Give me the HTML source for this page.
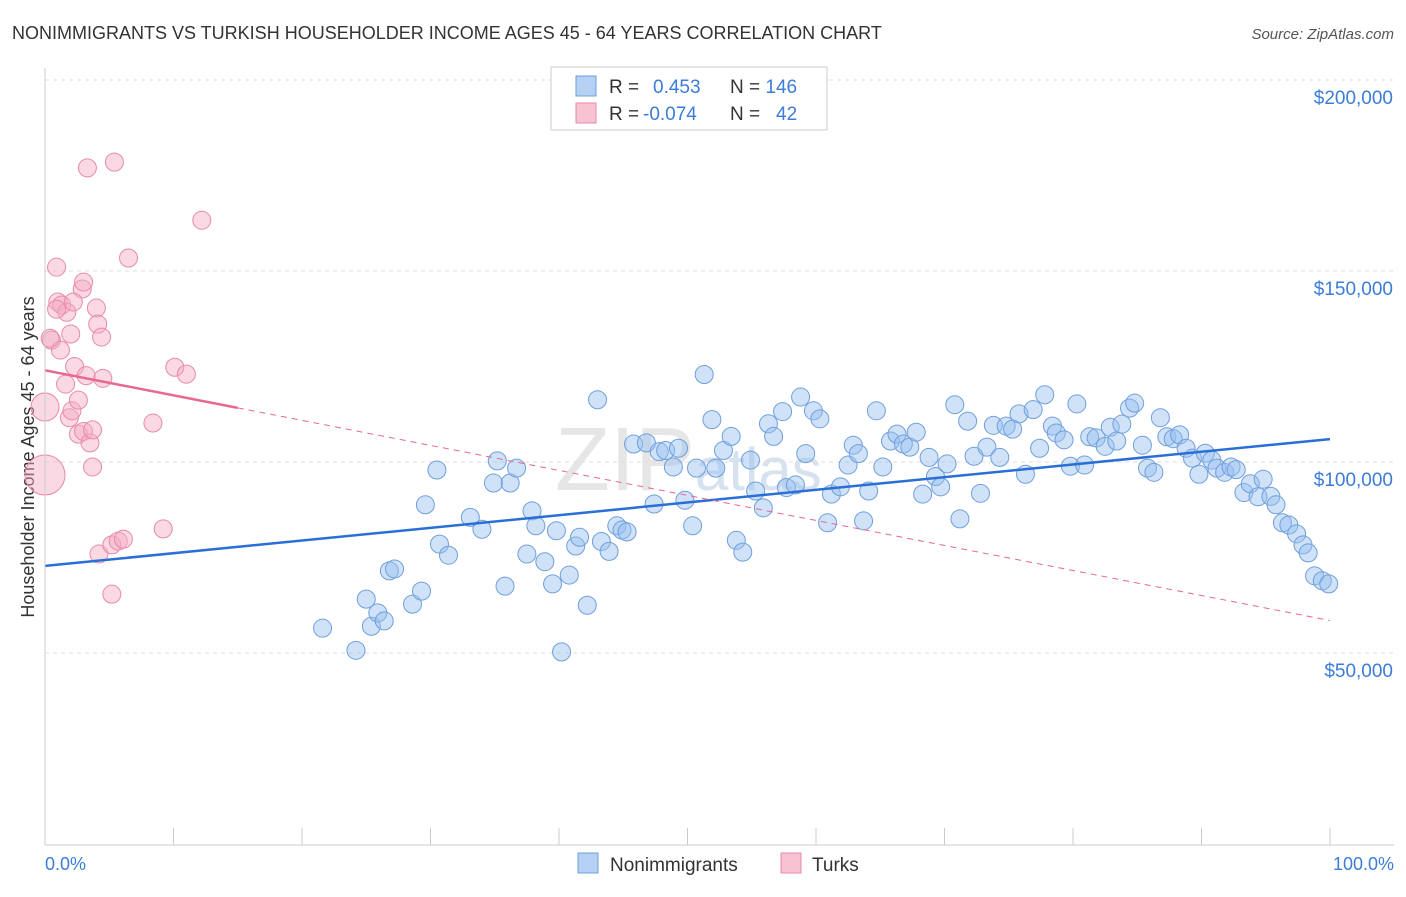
<!DOCTYPE html>
<html><head><meta charset="utf-8"><style>
body{margin:0;background:#fff;font-family:"Liberation Sans",sans-serif;}
svg text{font-family:"Liberation Sans",sans-serif;}
</style></head><body>
<svg id="chart" width="1406" height="892" xmlns="http://www.w3.org/2000/svg">
<text x="12" y="39" font-size="18" fill="#333">NONIMMIGRANTS VS TURKISH HOUSEHOLDER INCOME AGES 45 - 64 YEARS CORRELATION CHART</text>
<text x="1394" y="39" font-size="15" fill="#555" text-anchor="end" font-style="italic">Source: ZipAtlas.com</text>
<text x="34" y="457" font-size="18" fill="#333" text-anchor="middle" transform="rotate(-90 34 457)">Householder Income Ages 45 - 64 years</text>
<text x="555" y="490" font-size="90" fill="#e6e6e6" font-family="Liberation Serif">ZIP<tspan font-size="60" fill="#d6e2f0" font-family="Liberation Sans">atlas</tspan></text>
<g id="grid"></g><g id="pts"></g><g id="lines"></g>
<line x1="45" y1="68" x2="45" y2="845" stroke="#ccc"/>
<line x1="45" y1="845" x2="1394" y2="845" stroke="#ccc"/>
<text x="45" y="870" font-size="18" fill="#3b7dd8">0.0%</text>
<text x="1394" y="870" font-size="18" fill="#3b7dd8" text-anchor="end">100.0%</text>
<g>
<rect x="551" y="67" width="276" height="63" fill="#fff" stroke="#ccc"/>
<rect x="576" y="76" width="20" height="20" fill="#b5d0f3" stroke="#6f9fdc"/>
<rect x="576" y="103" width="20" height="20" fill="#f7c3d3" stroke="#e88aa8"/>
<text x="609" y="93" font-size="19" fill="#333">R = <tspan fill="#3b7dd8" x="653">0.453</tspan><tspan x="730">N = </tspan><tspan fill="#3b7dd8">146</tspan></text>
<text x="609" y="120" font-size="19" fill="#333">R = <tspan fill="#3b7dd8" x="643">-0.074</tspan><tspan x="730">N = </tspan><tspan fill="#3b7dd8" x="776">42</tspan></text>
</g>
<g>
<rect x="578" y="853" width="20" height="20" fill="#b5d0f3" stroke="#6f9fdc"/>
<text x="610" y="871" font-size="19" fill="#333">Nonimmigrants</text>
<rect x="781" y="853" width="20" height="20" fill="#f7c3d3" stroke="#e88aa8"/>
<text x="812" y="871" font-size="19" fill="#333">Turks</text>
</g>
</svg>
<script>
const yTicks=[50000,100000,150000,200000];
const yTickLabels=["$50,000","$100,000","$150,000","$200,000"];
const blueX=[21.6,24.2,25.0,25.4,25.9,26.4,26.8,27.2,28.6,29.3,30.5,29.6,30.7,31.4,33.1,34.0,34.9,35.2,35.8,36.2,36.7,37.5,37.9,38.2,38.9,39.5,39.8,40.2,40.8,41.3,41.6,42.2,43.0,43.3,43.9,44.5,44.9,45.3,45.8,46.8,47.4,47.8,48.3,48.9,49.3,49.8,50.4,50.7,51.3,51.9,52.2,52.8,53.4,53.8,54.3,54.9,55.3,55.9,56.3,56.7,57.4,57.7,58.4,58.8,59.2,59.8,60.3,60.9,61.2,61.9,62.5,62.9,63.3,63.7,64.1,64.7,65.2,65.8,66.3,66.8,67.3,67.8,68.3,68.8,69.3,69.7,70.2,70.8,71.2,71.8,72.3,72.8,73.3,73.8,74.3,74.8,75.3,75.8,76.3,76.9,77.4,77.8,78.4,78.7,79.3,79.8,80.3,80.9,81.3,81.8,82.5,82.9,83.4,83.8,84.4,84.8,85.4,85.8,86.3,86.8,87.3,87.8,88.3,88.8,89.3,89.8,90.3,90.8,91.2,91.8,92.3,92.7,93.3,93.8,94.4,94.8,95.4,95.8,96.3,96.8,97.4,97.9,98.3,98.8,99.4,99.9];
const blueY=[56.5,50.7,64.1,57.0,60.5,58.4,71.5,72.0,62.8,66.2,97.9,88.8,78.5,75.6,85.5,82.4,94.5,100.3,67.5,94.5,98.4,75.9,87.2,83.3,73.9,68.1,82.0,50.3,70.4,78.0,80.3,62.5,116.3,79.2,76.6,83.3,82.2,81.7,104.7,105.0,89.0,102.7,103.0,98.7,103.6,90.0,83.3,98.4,122.9,111.1,98.4,103.0,106.7,79.5,76.4,100.5,92.4,88.0,110.0,106.7,113.2,93.3,94.0,117.0,102.2,113.4,111.3,84.1,91.6,93.5,99.2,104.4,102.2,84.6,92.4,113.4,98.7,105.5,107.3,104.7,103.9,107.8,91.6,101.2,96.2,93.5,99.5,115.0,85.1,110.7,101.5,91.8,103.9,109.6,101.2,109.4,108.6,112.6,96.8,113.7,103.6,117.6,109.4,107.6,105.8,98.9,115.2,99.2,106.6,106.3,104.1,109.1,105.5,109.9,114.1,115.4,104.4,98.4,97.3,111.6,106.6,106.1,107.1,103.6,101.0,96.8,102.3,100.5,98.4,97.3,98.7,98.0,92.0,94.3,90.9,95.5,91.0,88.8,84.1,83.5,81.2,78.3,76.2,70.2,68.9,68.1];
const pinkX=[0,0,0.5,0.9,1.0,1.2,1.3,1.6,1.7,1.9,2.0,2.1,2.3,2.6,2.6,2.9,3.0,3.0,3.2,3.3,3.5,3.7,3.7,4.0,4.1,4.2,4.4,4.5,5.2,5.2,5.4,5.7,6.1,6.5,8.4,9.2,10.1,11.0,12.2,0.9,2.2,0.4];
const pinkY=[96.6,114.4,131.9,151.0,141.9,129.3,141.1,120.4,139.2,111.6,133.5,113.4,125.0,107.3,116.2,145.3,147.1,108.0,122.6,177.0,105.0,108.4,98.7,140.3,136.1,75.9,132.7,121.9,78.3,65.4,178.5,79.3,79.8,153.4,110.2,82.5,124.8,123.0,163.3,140.0,141.9,132.4];
const pinkR=[20,14];
const sx=v=>45+v/100*1285, sy=v=>844-v/50000*191;
const NS="http://www.w3.org/2000/svg";
function mk(t,a,p){const e=document.createElementNS(NS,t);for(const k in a)e.setAttribute(k,a[k]);p.appendChild(e);return e;}
const grid=document.getElementById('grid');
yTicks.forEach((v,i)=>{
 const l=mk('line',{x1:45,x2:1394,y1:sy(v),y2:sy(v),stroke:'#ddd','stroke-dasharray':'4,4'},grid);
 
 
 const t=mk('text',{x:1393,y:sy(v)+24,'font-size':19,fill:'#3b7dd8','text-anchor':'end'},grid);
 t.textContent=yTickLabels[i];
 
 
});
for(let i=0;i<=10;i++){const l=mk('line',{x1:sx(i*10),x2:sx(i*10),y1:828,y2:845,stroke:'#ccc'},grid);
 
 }
const pts=document.getElementById('pts');
blueX.forEach((x,i)=>{const c=mk('circle',{cx:sx(x),cy:sy(blueY[i]*1000),r:9,fill:'rgba(150,190,240,0.45)',stroke:'#6f9fdc','stroke-width':1},pts);
 
 });
pinkX.forEach((x,i)=>{const c=mk('circle',{cx:sx(x),cy:sy(pinkY[i]*1000),r:pinkR[i]||9,fill:'rgba(245,170,195,0.45)',stroke:'#e88aa8','stroke-width':1},pts);
 
 });
const lines=document.getElementById('lines');
const blueFit=[72800,106000], pinkFit=[124000,58500];
let b=mk('line',{x1:sx(0),y1:sy(blueFit[0]),x2:sx(100),y2:sy(blueFit[1]),stroke:'#2a6fd6','stroke-width':2.5},lines);


const pm=x=>pinkFit[0]+(pinkFit[1]-pinkFit[0])*x/100;
let p1=mk('line',{x1:sx(0),y1:sy(pm(0)),x2:sx(15),y2:sy(pm(15)),stroke:'#e8688f','stroke-width':2.5},lines);


let p2=mk('line',{x1:sx(15),y1:sy(pm(15)),x2:sx(100),y2:sy(pm(100)),stroke:'#e8688f','stroke-width':1,'stroke-dasharray':'6,5'},lines);


</script>
</body></html>
